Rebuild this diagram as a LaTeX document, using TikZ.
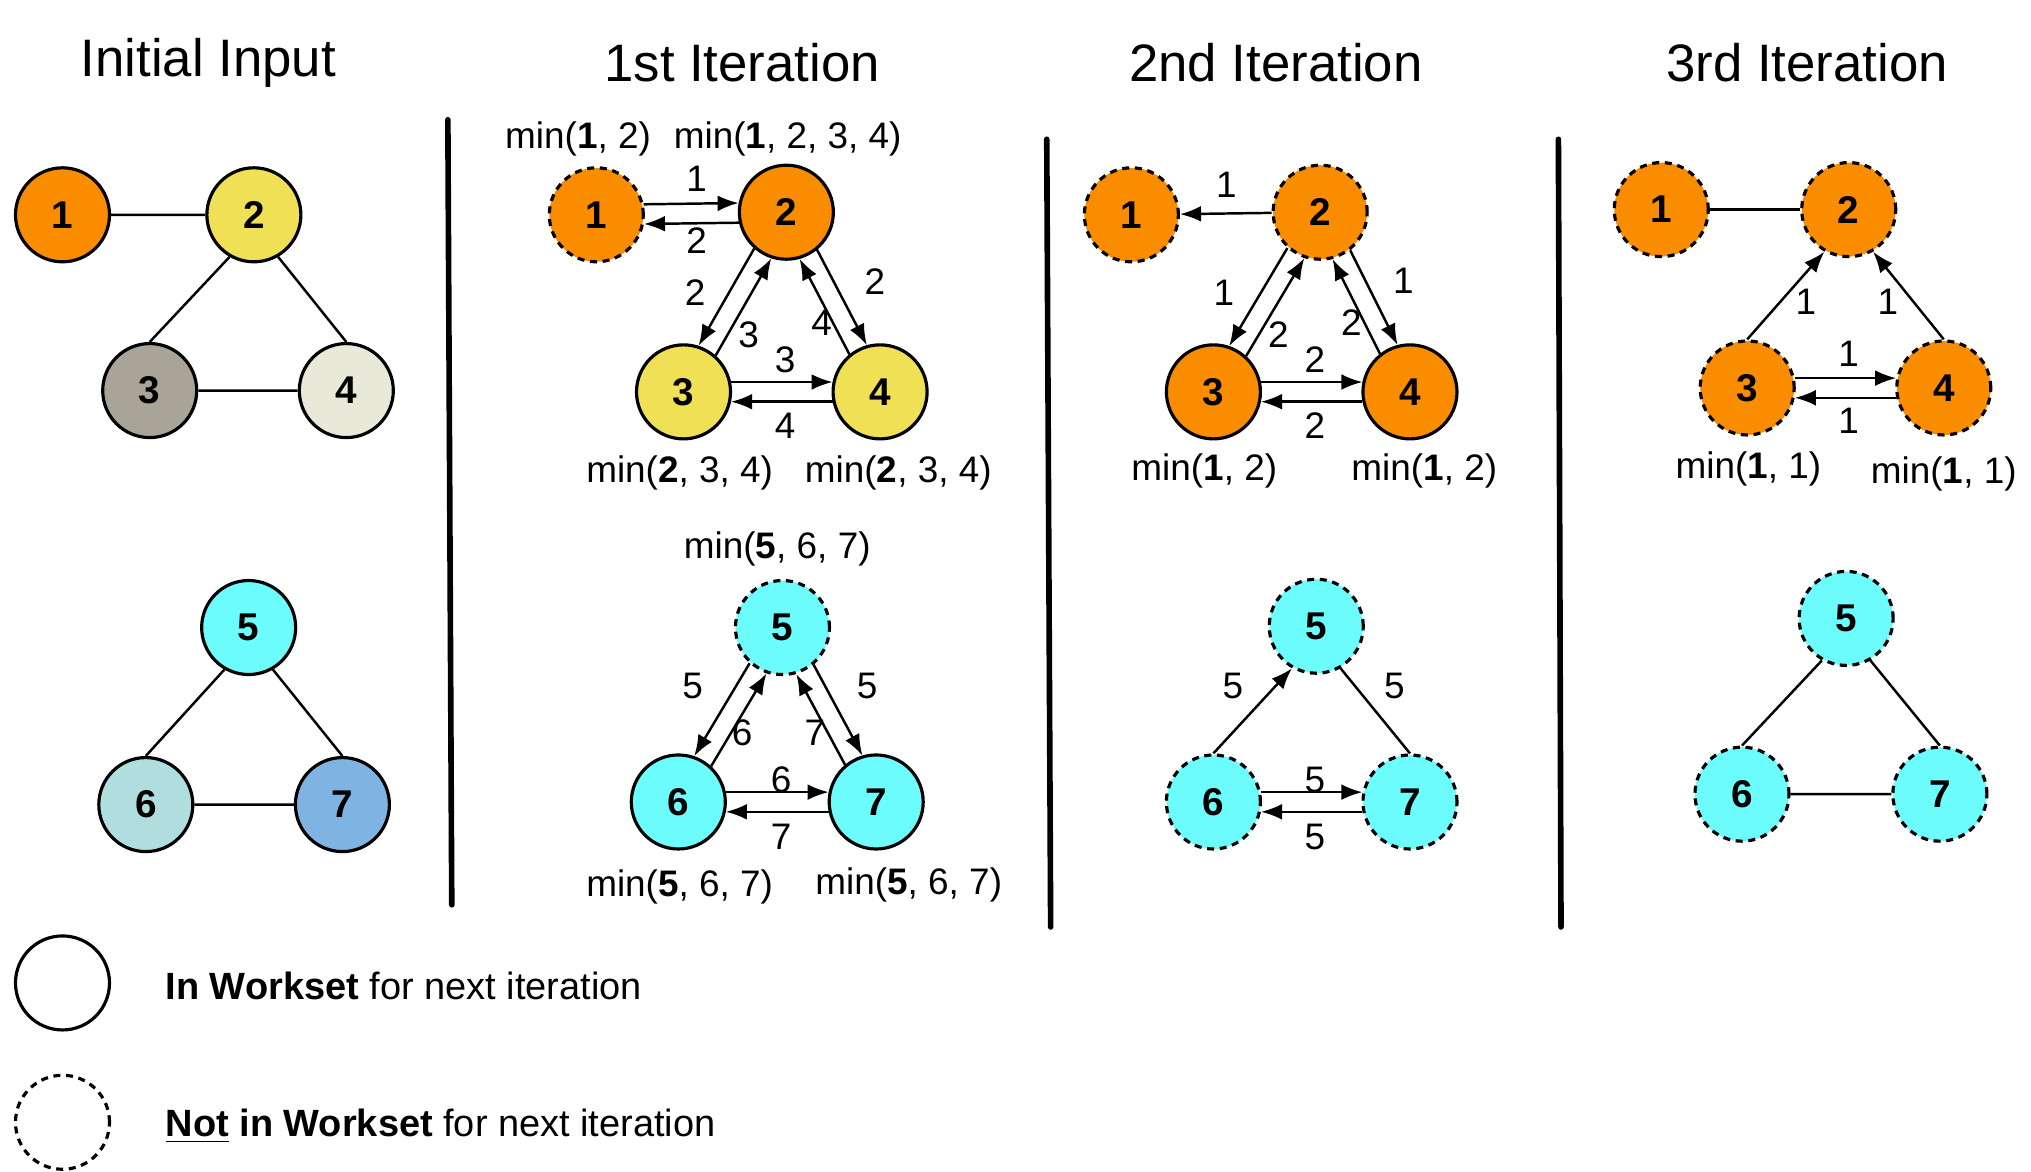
\documentclass[tikz,border=0pt]{standalone}
\usepackage{fontspec}
\setmainfont{Liberation Sans}
\usetikzlibrary{calc,arrows.meta}
\definecolor{org}{HTML}{FA8C00}
\definecolor{yel}{HTML}{F0E055}
\definecolor{gry}{HTML}{A8A598}
\definecolor{crm}{HTML}{E8E9D8}
\definecolor{cya}{HTML}{6CFCFC}
\definecolor{tea}{HTML}{B0DEDE}
\definecolor{blu}{HTML}{7EB3E2}
\tikzset{
 v/.style={circle,draw=black,line width=0.9pt,minimum size=0.94cm,inner sep=0pt,font=\fontsize{11}{13}\selectfont\bfseries},
 d/.style={v,dash pattern=on 2pt off 1.6pt},
 arr/.style={line width=0.7pt,-{Latex[length=6pt,width=4.5pt]}},
 ln/.style={line width=0.7pt},
 lab/.style={font=\fontsize{10.5}{12}\selectfont,inner sep=1pt},
 ttl/.style={font=\fontsize{15}{18}\selectfont},
 div/.style={line width=1.6pt,line cap=round},
 leg/.style={anchor=west,inner sep=1pt,font=\fontsize{10.8}{13}\selectfont},
}
\newcommand\R{0.475cm}
\newcommand\arrpair[3]{%
\draw[arr] ($($(#1)!\R!(#2)$)!#3!90:(#2)$) -- ($($(#2)!\R!(#1)$)!#3!-90:(#1)$);
\draw[arr] ($($(#2)!\R!(#1)$)!#3!90:(#1)$) -- ($($(#1)!\R!(#2)$)!#3!-90:(#2)$);}
\newcommand\mn[1]{min(\textbf{#1}}
\begin{document}
\begin{tikzpicture}[x=0.013019cm,y=-0.013019cm]
\useasboundingbox (0,0) rectangle (1560,900);
% titles
\node[ttl] (t0) at (160,48) {Initial Input};
\node[ttl] (t1) at (570,48) {1st Iteration};
\node[ttl] (t2) at (980,48) {2nd Iteration};
\node[ttl] (t3) at (1388,48) {3rd Iteration};
% dividers
\draw[div] (344,92) -- (347,695);
\draw[div] (804,107) -- (807,712);
\draw[div] (1197,107) -- (1199,712);
% initial
\node[v,fill=org] (a1) at (48,165) {1};
\node[v,fill=yel] (a2) at (195,165) {2};
\node[v,fill=gry] (a3) at (115,300) {3};
\node[v,fill=crm] (a4) at (266,300) {4};
\node[v,fill=cya] (a5) at (191,482) {5};
\node[v,fill=tea] (a6) at (112,618) {6};
\node[v,fill=blu] (a7) at (263,618) {7};
\draw[ln] (a1)--(a2) (a2.-120)--(a3.north) (a2.-60)--(a4.north) (a3)--(a4) (a5.-120)--(a6.north) (a5.-60)--(a7.north) (a6)--(a7);
% 1st
\node[d,fill=org] (b1) at (458,165) {1};
\node[v,fill=org] (b2) at (604,163) {2};
\node[v,fill=yel] (b3) at (525,301) {3};
\node[v,fill=yel] (b4) at (676,301) {4};
\node[d,fill=cya] (b5) at (601,482) {5};
\node[v,fill=cya] (b6) at (521,616) {6};
\node[v,fill=cya] (b7) at (673,616) {7};
\arrpair{b1}{b2}{2.8pt}
\arrpair{b2}{b3}{-2.8pt}
\arrpair{b2}{b4}{2.8pt}
\arrpair{b3}{b4}{2.8pt}
\arrpair{b5}{b6}{-2.8pt}
\arrpair{b5}{b7}{2.8pt}
\arrpair{b6}{b7}{2.8pt}
\node[lab] (l1) at (444,107) {\mn{1}, 2)};
\node[lab] (l2) at (605,107) {\mn{1}, 2, 3, 4)};
\node[lab] (l3) at (522,363) {\mn{2}, 3, 4)};
\node[lab] (l4) at (690,363) {\mn{2}, 3, 4)};
\node[lab] (l5) at (597,422) {\mn{5}, 6, 7)};
\node[lab] (l6) at (522,681) {\mn{5}, 6, 7)};
\node[lab] (l7) at (698,680) {\mn{5}, 6, 7)};
\node[lab] (e1) at (535,137) {1};
\node[lab] (e2) at (535,185) {2};
\node[lab] (e3) at (534,225) {2};
\node[lab] (e4) at (575,257) {3};
\node[lab] (e5) at (672,216) {2};
\node[lab] (e6) at (631,248) {4};
\node[lab] (e7) at (603,276) {3};
\node[lab] (e8) at (603,327) {4};
\node[lab] (e9) at (532,527) {5};
\node[lab] (e10) at (570,563) {6};
\node[lab] (e11) at (666,527) {5};
\node[lab] (e12) at (626,563) {7};
\node[lab] (e13) at (600,599) {6};
\node[lab] (e14) at (600,643) {7};
% 2nd
\node[d,fill=org] (c1) at (869,165) {1};
\node[d,fill=org] (c2) at (1014,163) {2};
\node[v,fill=org] (c3) at (932,301) {3};
\node[v,fill=org] (c4) at (1083,301) {4};
\node[d,fill=cya] (c5) at (1011,481) {5};
\node[d,fill=cya] (c6) at (932,616) {6};
\node[d,fill=cya] (c7) at (1083,616) {7};
\draw[arr] (c2) -- (c1);
\arrpair{c2}{c3}{-2.8pt}
\arrpair{c2}{c4}{2.8pt}
\arrpair{c3}{c4}{2.8pt}
\arrpair{c6}{c7}{2.8pt}
\draw[arr] (c6.north) -- (c5.-120);
\draw[ln] (c5.-60) -- (c7.north);
\node[lab] (f1) at (942,142) {1};
\node[lab] (f2) at (940,225) {1};
\node[lab] (f3) at (982,257) {2};
\node[lab] (f4) at (1078,216) {1};
\node[lab] (f5) at (1038,248) {2};
\node[lab] (f6) at (1010,276) {2};
\node[lab] (f7) at (1010,327) {2};
\node[lab] (f8) at (947,527) {5};
\node[lab] (f9) at (1071,527) {5};
\node[lab] (f10) at (1010,599) {5};
\node[lab] (f11) at (1010,643) {5};
\node[lab] (m1) at (925,362) {\mn{1}, 2)};
\node[lab] (m2) at (1094,362) {\mn{1}, 2)};
% 3rd
\node[d,fill=org] (g1) at (1276,161) {1};
\node[d,fill=org] (g2) at (1420,161) {2};
\node[d,fill=org] (g3) at (1342,298) {3};
\node[d,fill=org] (g4) at (1493,298) {4};
\node[d,fill=cya] (g5) at (1418,475) {5};
\node[d,fill=cya] (g6) at (1338,610) {6};
\node[d,fill=cya] (g7) at (1490,610) {7};
\draw[ln] (g1) -- (g2);
\draw[arr] (g3.north) -- (g2.-120);
\draw[arr] (g4.north) -- (g2.-60);
\arrpair{g3}{g4}{2.8pt}
\draw[ln] (g5.-120)--(g6.north) (g5.-60)--(g7.north) (g6)--(g7);
\node[lab] (h1) at (1387,232) {1};
\node[lab] (h2) at (1450,232) {1};
\node[lab] (h3) at (1420,272) {1};
\node[lab] (h4) at (1420,323) {1};
\node[lab] (n1) at (1343,360) {\mn{1}, 1)};
\node[lab] (n2) at (1493,364) {\mn{1}, 1)};
% legend
\node[v] (k1) at (48,755) {};
\node[d] (k2) at (48,862) {};
\node[leg] (k1t) at (124,757) {\textbf{In Workset} for next iteration};
\node[leg] (k2t) at (124,865) {\textbf{\underline{Not} in Workset} for next iteration};
\end{tikzpicture}
\end{document}
